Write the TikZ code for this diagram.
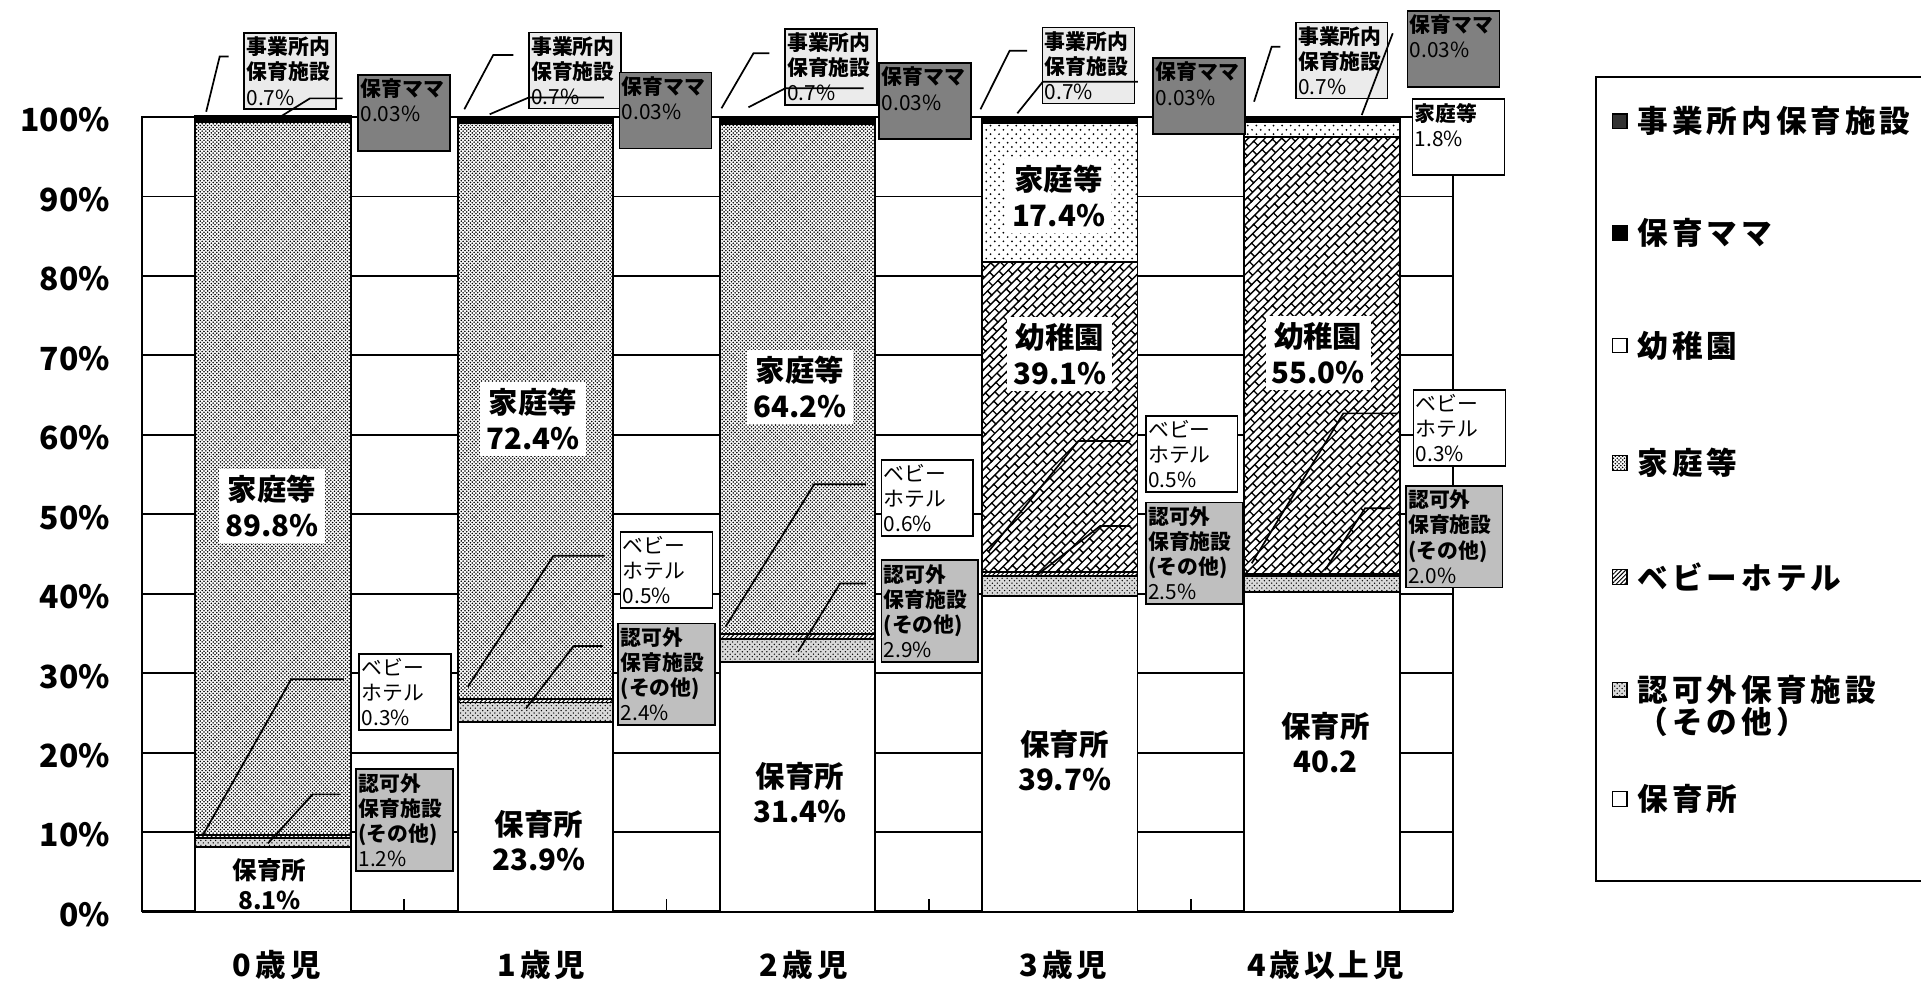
\documentclass[tikz,border=0pt]{standalone}
\usepackage{fontspec}
\setmainfont{Noto Sans CJK JP}
\newfontfamily\widefam{Noto Sans CJK JP}[LetterSpace=13]
\usetikzlibrary{patterns,patterns.meta,positioning}

\newcommand{\pcy}[1]{744-6.485*#1}
\newcommand{\axfont}{\bfseries\fontsize{26}{28}\selectfont}
\newcommand{\catfont}{\widefam\bfseries\fontsize{25}{28}\selectfont}
\newcommand{\barfont}{\bfseries\fontsize{24}{29}\selectfont}
\newcommand{\smbarfont}{\bfseries\fontsize{20}{24.6}\selectfont}
\newcommand{\cofont}{\fontsize{17}{20.5}\selectfont}
\newcommand{\legfont}{\widefam\bfseries\fontsize{25}{28}\selectfont}

\tikzdeclarepattern{
  name=kdense,
  type=uncolored,
  bottom left={(-1pt,-1pt)},
  top right={(4pt,4pt)},
  tile size={(3pt,3pt)},
  code={\fill (0pt,0pt) circle (.72pt) (1.5pt,1.5pt) circle (.72pt);}
}
\tikzdeclarepattern{
  name=ksparse,
  type=uncolored,
  bottom left={(-1pt,-1pt)},
  top right={(8pt,8pt)},
  tile size={(7pt,7pt)},
  code={\fill (0pt,0pt) circle (.8pt) (3.5pt,3.5pt) circle (.8pt);}
}
\tikzdeclarepattern{
  name=kspeck,
  type=uncolored,
  bottom left={(-1pt,-1pt)},
  top right={(5pt,5pt)},
  tile size={(4pt,4pt)},
  code={\fill (0pt,0pt) circle (.6pt) (2pt,2pt) circle (.6pt);}
}
\tikzdeclarepattern{
  name=kbricks,
  type=uncolored,
  bottom left={(-1pt,-1pt)},
  top right={(13pt,10.6pt)},
  tile size={(12pt,9.6pt)},
  tile transformation={rotate=45},
  code={\draw[line width=1.1pt] (-1pt,0pt) -- (13pt,0pt) (-1pt,4.8pt) -- (13pt,4.8pt)
    (0pt,0pt) -- (0pt,4.8pt) (6pt,4.8pt) -- (6pt,9.6pt);}
}

\begin{document}
\begin{tikzpicture}[x=1pt, y=-1pt,
  grid/.style={line width=1.5pt},
  seg/.style={draw, line width=1.5pt},
  hoiku/.style={seg, fill=white},
  ninka/.style={seg, preaction={fill=black!15}, pattern=kspeck},
  baby/.style={seg, preaction={fill=white}, pattern={Lines[angle=45,distance=2.5pt,line width=.8pt]}},
  katei/.style={seg, preaction={fill=white}, pattern=kdense},
  kateisp/.style={seg, preaction={fill=white}, pattern=ksparse},
  youchi/.style={seg, preaction={fill=white}, pattern=kbricks},
  jigyo/.style={seg, fill=black},
  barlabel/.style={align=center, font=\barfont, inner sep=5pt},
  boxed/.style={barlabel, fill=white},
  callout/.style={draw, line width=1.3pt, fill=white, anchor=north west, inner sep=2pt,
    text width=71pt, minimum height=62pt, align=left, font=\cofont},
  jgbox/.style={callout, fill=black!8},
  mmbox/.style={callout, fill=black!50},
  nkbox/.style={callout, text width=75pt, minimum height=83pt, fill=black!25},
  leader/.style={line width=1.4pt, shorten >=12pt},
  ylab/.style={anchor=east, font=\axfont, inner sep=0pt},
  xlab/.style={font=\catfont},
  swatch/.style={draw, line width=1pt, minimum size=12pt, inner sep=0pt},
  legtext/.style={font=\legfont, inner sep=0pt}]
\useasboundingbox (0,0) rectangle (1568,806);

\draw[grid] (116,{\pcy{10}}) -- (1186,{\pcy{10}});
\draw[grid] (116,{\pcy{20}}) -- (1186,{\pcy{20}});
\draw[grid] (116,{\pcy{30}}) -- (1186,{\pcy{30}});
\draw[grid] (116,{\pcy{40}}) -- (1186,{\pcy{40}});
\draw[grid] (116,{\pcy{50}}) -- (1186,{\pcy{50}});
\draw[grid] (116,{\pcy{60}}) -- (1186,{\pcy{60}});
\draw[grid] (116,{\pcy{70}}) -- (1186,{\pcy{70}});
\draw[grid] (116,{\pcy{80}}) -- (1186,{\pcy{80}});
\draw[grid] (116,{\pcy{90}}) -- (1186,{\pcy{90}});
\draw[grid] (116,{\pcy{0}}) rectangle (1186,{\pcy{100}});
\draw[line width=2pt] (116,{\pcy{0}}) -- (1186,{\pcy{0}});
\draw[grid] (330,744) -- (330,734);
\draw[grid] (544,744) -- (544,734);
\draw[grid] (758,744) -- (758,734);
\draw[grid] (972,744) -- (972,734);

\draw[hoiku] (159.5,{\pcy{0}}) rectangle (286.5,{\pcy{8.1}});
\draw[ninka] (159.5,{\pcy{8.1}}) rectangle (286.5,{\pcy{9.3}});
\draw[baby] (159.5,{\pcy{9.3}}) rectangle (286.5,{\pcy{9.6}});
\draw[katei] (159.5,{\pcy{9.6}}) rectangle (286.5,{\pcy{99.4}});
\draw[jigyo] (159.5,{\pcy{99.4}}) rectangle (286.5,{\pcy{100.13}});

\draw[hoiku] (373.5,{\pcy{0}}) rectangle (500.5,{\pcy{23.9}});
\draw[ninka] (373.5,{\pcy{23.9}}) rectangle (500.5,{\pcy{26.3}});
\draw[baby] (373.5,{\pcy{26.3}}) rectangle (500.5,{\pcy{26.8}});
\draw[katei] (373.5,{\pcy{26.8}}) rectangle (500.5,{\pcy{99.2}});
\draw[jigyo] (373.5,{\pcy{99.2}}) rectangle (500.5,{\pcy{99.93}});

\draw[hoiku] (587.5,{\pcy{0}}) rectangle (714.5,{\pcy{31.4}});
\draw[ninka] (587.5,{\pcy{31.4}}) rectangle (714.5,{\pcy{34.3}});
\draw[baby] (587.5,{\pcy{34.3}}) rectangle (714.5,{\pcy{34.9}});
\draw[katei] (587.5,{\pcy{34.9}}) rectangle (714.5,{\pcy{99.1}});
\draw[jigyo] (587.5,{\pcy{99.1}}) rectangle (714.5,{\pcy{99.83}});

\draw[hoiku] (801.5,{\pcy{0}}) rectangle (928.5,{\pcy{39.7}});
\draw[ninka] (801.5,{\pcy{39.7}}) rectangle (928.5,{\pcy{42.2}});
\draw[baby] (801.5,{\pcy{42.2}}) rectangle (928.5,{\pcy{42.7}});
\draw[youchi] (801.5,{\pcy{42.7}}) rectangle (928.5,{\pcy{81.8}});
\draw[kateisp] (801.5,{\pcy{81.8}}) rectangle (928.5,{\pcy{99.2}});
\draw[jigyo] (801.5,{\pcy{99.2}}) rectangle (928.5,{\pcy{99.93}});

\draw[hoiku] (1015.5,{\pcy{0}}) rectangle (1142.5,{\pcy{40.2}});
\draw[ninka] (1015.5,{\pcy{40.2}}) rectangle (1142.5,{\pcy{42.2}});
\draw[baby] (1015.5,{\pcy{42.2}}) rectangle (1142.5,{\pcy{42.5}});
\draw[youchi] (1015.5,{\pcy{42.5}}) rectangle (1142.5,{\pcy{97.5}});
\draw[kateisp] (1015.5,{\pcy{97.5}}) rectangle (1142.5,{\pcy{99.3}});
\draw[jigyo] (1015.5,{\pcy{99.3}}) rectangle (1142.5,{\pcy{100.03}});

\node[boxed] (kt0) at (222,413) {家庭等\\89.8\%};
\node[boxed] (kt1) at (435,342) {家庭等\\72.4\%};
\node[boxed] (kt2) at (653,316) {家庭等\\64.2\%};
\node[boxed] (kt3) at (864,160) {家庭等\\17.4\%};
\node[boxed] (yo3) at (865,289) {幼稚園\\39.1\%};
\node[boxed] (yo4) at (1076,288) {幼稚園\\55.0\%};
\node[barlabel, font=\smbarfont, inner sep=1pt] (ho0) at (220,722) {保育所\\8.1\%};
\node[barlabel] (ho1) at (440,686) {保育所\\23.9\%};
\node[barlabel] (ho2) at (653,647) {保育所\\31.4\%};
\node[barlabel] (ho3) at (869,621) {保育所\\39.7\%};
\node[barlabel] (ho4) at (1082,606) {保育所\\40.2};

\node[jgbox] (jg0) at (198.6,26.4) {\textbf{事業所内}\\\textbf{保育施設}\\0.7\%};
\node[mmbox] (mm0) at (291.7,60.4) {\textbf{保育ママ}\\0.03\%\\~};
\node[callout] (bh0) at (292.6,533.3) {ベビー\\ホテル\\0.3\%};
\node[nkbox] (nk0) at (290,627.2) {\textbf{認可外}\\\textbf{保育施設}\\\textbf{(その他)}\\1.2\%};

\node[jgbox] (jg1) at (431,25.9) {\textbf{事業所内}\\\textbf{保育施設}\\0.7\%};
\node[mmbox] (mm1) at (505,58.5) {\textbf{保育ママ}\\0.03\%\\~};
\node[callout] (bh1) at (505.8,433.5) {ベビー\\ホテル\\0.5\%};
\node[nkbox] (nk1) at (504,508.3) {\textbf{認可外}\\\textbf{保育施設}\\\textbf{(その他)}\\2.4\%};

\node[jgbox] (jg2) at (640,23.1) {\textbf{事業所内}\\\textbf{保育施設}\\0.7\%};
\node[mmbox] (mm2) at (717,50.9) {\textbf{保育ママ}\\0.03\%\\~};
\node[callout] (bh2) at (718.7,374.9) {ベビー\\ホテル\\0.6\%};
\node[nkbox] (nk2) at (718.7,456.6) {\textbf{認可外}\\\textbf{保育施設}\\\textbf{(その他)}\\2.9\%};

\node[jgbox] (jg3) at (850.3,21.8) {\textbf{事業所内}\\\textbf{保育施設}\\0.7\%};
\node[mmbox] (mm3) at (940.7,46.8) {\textbf{保育ママ}\\0.03\%\\~};
\node[callout] (bh3) at (934.6,338.7) {ベビー\\ホテル\\0.5\%};
\node[nkbox] (nk3) at (934.6,409.5) {\textbf{認可外}\\\textbf{保育施設}\\\textbf{(その他)}\\2.5\%};

\node[jgbox] (jg4) at (1057,17.7) {\textbf{事業所内}\\\textbf{保育施設}\\0.7\%};
\node[mmbox] (mm4) at (1148.2,8.2) {\textbf{保育ママ}\\0.03\%\\~};
\node[callout] (ka4) at (1152.3,80.3) {\textbf{家庭等}\\1.8\%\\~};
\node[callout] (bh4) at (1153.1,317.8) {ベビー\\ホテル\\0.3\%};
\node[nkbox] (nk4) at (1146.8,395.9) {\textbf{認可外}\\\textbf{保育施設}\\\textbf{(その他)}\\2.0\%};

\draw[leader] (168.3,91.2) coordinate (s0a) -- (179.3,46.2) -- (179.3,46.2 -| jg0.west);
\draw[leader] (224.5,98) coordinate (s0b) -- (253,80.3) -- (253,80.3 -| mm0.west);
\draw[leader] (165.6,681.6) coordinate (s0c) -- (237.6,554.5) -- (237.6,554.5 -| bh0.west);
\draw[leader] (218.7,688.4) coordinate (s0d) -- (255.2,648.4) -- (255.2,648.4 -| nk0.west);

\draw[leader] (379,89.2) coordinate (s1a) -- (402.6,44.9) -- (402.6,44.9 -| jg1.west);
\draw[leader] (399.7,93.3) coordinate (s1b) -- (431.8,79.5) -- (431.8,79.5 -| mm1.west);
\draw[leader] (381.9,560.5) coordinate (s1c) -- (451.8,453.6) -- (451.8,453.6 -| bh1.west);
\draw[leader] (429.3,578.2) coordinate (s1d) -- (468.2,527.3) -- (468.2,527.3 -| nk1.west);

\draw[leader] (588.9,88.4) coordinate (s2a) -- (615,43.5) -- (615,43.5 -| jg2.west);
\draw[leader] (610.9,87.6) coordinate (s2b) -- (640.9,72.1) -- (640.9,72.1 -| mm2.west);
\draw[leader] (592.2,511.5) coordinate (s2c) -- (664.6,395.3) -- (664.6,395.3 -| bh2.west);
\draw[leader] (651.3,531.9) coordinate (s2d) -- (685.8,476.2) -- (685.8,476.2 -| nk2.west);

\draw[leader] (800.3,89.2) coordinate (s3a) -- (824.1,41.4) -- (824.1,41.4 -| jg3.west);
\draw[leader] (830.4,92.5) coordinate (s3b) -- (851.2,66.7) -- (851.2,66.7 -| mm3.west);
\draw[leader] (806.7,450.3) coordinate (s3c) -- (880.2,360) -- (880.2,360 -| bh3.west);
\draw[leader] (844.8,470.7) coordinate (s3d) -- (897.9,429.4) -- (897.9,429.4 -| nk3.west);

\draw[leader] (1023.6,83) coordinate (s4a) -- (1038,38.1) -- (1038,38.1 -| jg4.west);
\draw[line width=1.4pt] (1111.5,93.9) coordinate (s4b) -- (1136.8,27.2) coordinate (e4b);
\draw[leader] (1021.7,459.8) coordinate (s4c) -- (1096.5,337.4) -- (1096.5,337.4 -| bh4.west);
\draw[leader] (1081.5,465.3) coordinate (s4d) -- (1114.2,414.9) -- (1114.2,414.9 -| nk4.west);

\node[ylab] (t100) at (90,{\pcy{100}+2.5}) {100\%};
\node[ylab] (t90) at (90,{\pcy{90}+2.5}) {90\%};
\node[ylab] (t80) at (90,{\pcy{80}+2.5}) {80\%};
\node[ylab] (t70) at (90,{\pcy{70}+2.5}) {70\%};
\node[ylab] (t60) at (90,{\pcy{60}+2.5}) {60\%};
\node[ylab] (t50) at (90,{\pcy{50}+2.5}) {50\%};
\node[ylab] (t40) at (90,{\pcy{40}+2.5}) {40\%};
\node[ylab] (t30) at (90,{\pcy{30}+2.5}) {30\%};
\node[ylab] (t20) at (90,{\pcy{20}+2.5}) {20\%};
\node[ylab] (t10) at (90,{\pcy{10}+2.5}) {10\%};
\node[ylab] (t0) at (90,{\pcy{0}+2.5}) {0\%};

\node[xlab] (c0) at (226,788) {0歳児};
\node[xlab] (c1) at (442,788) {1歳児};
\node[xlab] (c2) at (656,788) {2歳児};
\node[xlab] (c3) at (868,788) {3歳児};
\node[xlab] (c4) at (1082,788) {4歳以上児};

\draw[line width=1.5pt] (1600,63) -- (1303,63) -- (1303,719) -- (1600,719);
\node[swatch, fill=black!80] (sw1) at (1322,99) {};
\node[legtext, right=8pt of sw1] (lg1) {事業所内保育施設};
\node[swatch, fill=black] (sw2) at (1322,190) {};
\node[legtext, right=8pt of sw2] (lg2) {保育ママ};
\node[swatch, fill=white] (sw3) at (1322,282) {};
\node[legtext, right=8pt of sw3] (lg3) {幼稚園};
\node[swatch, preaction={fill=white}, pattern=kdense] (sw4) at (1322,378) {};
\node[legtext, right=8pt of sw4] (lg4) {家庭等};
\node[swatch, preaction={fill=white}, pattern={Lines[angle=45,distance=2.5pt,line width=.8pt]}] (sw5) at (1322,471) {};
\node[legtext, right=8pt of sw5] (lg5) {ベビーホテル};
\node[swatch, preaction={fill=black!15}, pattern=kspeck] (sw6) at (1322,563) {};
\node[legtext, right=8pt of sw6] (lg6) {認可外保育施設};
\node[legtext, below right=2pt and 0pt of lg6.south west] (lg6b) {（その他）};
\node[swatch, fill=white] (sw7) at (1322,652) {};
\node[legtext, right=8pt of sw7] (lg7) {保育所};
\end{tikzpicture}
\end{document}
